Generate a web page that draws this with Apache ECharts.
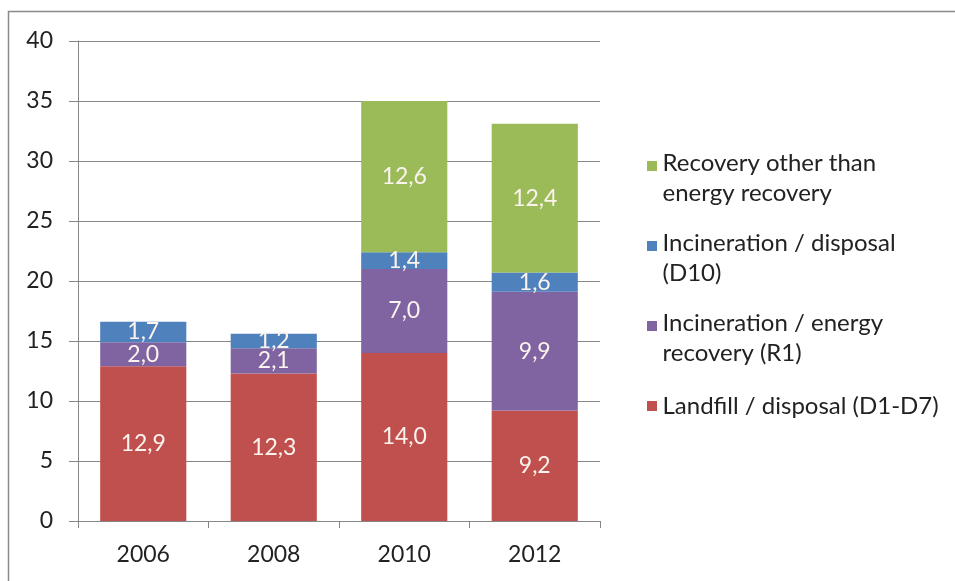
<!DOCTYPE html>
<html><head><meta charset="utf-8">
<script src="https://cdn.jsdelivr.net/npm/echarts@6/dist/echarts.min.js"></script>
<style>html,body{margin:0;padding:0;background:#fff}#c{width:955px;height:581px}</style>
</head><body><div id="c"></div>
<script>
const categories = ['2006', '2008', '2010', '2012'];
const landfill = [12.9, 12.3, 14.0, 9.2];
const incinerationEnergy = [2.0, 2.1, 7.0, 9.9];
const incinerationDisposal = [1.7, 1.2, 1.4, 1.6];
const recoveryOther = [0, 0, 12.6, 12.4];
const seriesNames = ['Landfill / disposal (D1-D7)', 'Incineration / energy recovery (R1)', 'Incineration / disposal (D10)', 'Recovery other than energy recovery'];
const legendLabels = {
  'Recovery other than energy recovery': 'Recovery other than\nenergy recovery',
  'Incineration / disposal (D10)': 'Incineration / disposal\n(D10)',
  'Incineration / energy recovery (R1)': 'Incineration / energy\nrecovery (R1)',
  'Landfill / disposal (D1-D7)': 'Landfill / disposal (D1-D7)'
};
const colors = ['#C0504D', '#8064A2', '#4F81BD', '#9BBB59'];
const FONT = 'Lato';
const chart = echarts.init(document.getElementById('c'), null, {renderer: 'canvas'});
const values = [landfill, incinerationEnergy, incinerationDisposal, recoveryOther];
const topIcon = 'path://M0,1L10,1L10,11L0,11ZM0,0M0,36';
const midIcon = 'path://M0,13L10,13L10,23L0,23ZM0,0M0,36';
chart.setOption({
  animation: false,
  textStyle: {fontFamily: FONT},
  graphic: [{type: 'rect', shape: {x: 8.5, y: 11.5, width: 1000, height: 1000}, style: {fill: 'none', stroke: '#8a8a8a', lineWidth: 1.5}}],
  grid: {left: 78, top: 41, right: 355, bottom: 60},
  legend: {
    orient: 'vertical', left: 642, top: 143,
    itemWidth: 11, itemHeight: 36, itemGap: 20,
    data: [
      {name: seriesNames[3], icon: topIcon},
      {name: seriesNames[2], icon: topIcon},
      {name: seriesNames[1], icon: topIcon},
      {name: seriesNames[0], icon: midIcon}
    ],
    formatter: n => legendLabels[n],
    textStyle: {fontFamily: FONT, fontSize: 24, color: '#222', lineHeight: 30, padding: [0, 0, 0, 0]},
    itemStyle: {borderWidth: 0}
  },
  xAxis: {
    type: 'category', data: categories,
    axisLine: {lineStyle: {color: '#868686', width: 1}},
    axisTick: {show: true, length: 7, lineStyle: {color: '#868686'}},
    axisLabel: {fontFamily: FONT, fontSize: 23, color: '#222', margin: 22}
  },
  yAxis: {
    type: 'value', min: 0, max: 40, interval: 5,
    axisLine: {show: true, lineStyle: {color: '#868686'}},
    axisTick: {show: true, length: 9, lineStyle: {color: '#868686'}},
    splitLine: {lineStyle: {color: '#868686', width: 1}},
    axisLabel: {fontFamily: FONT, fontSize: 23, color: '#222', margin: 25}
  },
  series: seriesNames.map((name, i) => ({
    name, type: 'bar', stack: 'total', barCategoryGap: '34%',
    data: values[i],
    itemStyle: {color: colors[i]},
    label: {
      show: true, position: 'inside', fontFamily: FONT, fontSize: 23, color: '#fbf3ee',
      formatter: p => p.value ? p.value.toFixed(1).replace('.', ',') : ''
    }
  }))
});
</script></body></html>
